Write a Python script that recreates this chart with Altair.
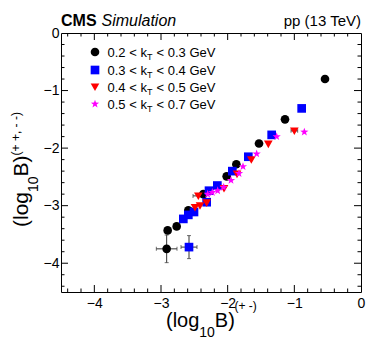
import altair as alt
import pandas as pd
import numpy as np

FONT = "Liberation Sans"

# ---------------- data ----------------
series_names = ["0.2-0.3", "0.3-0.4", "0.4-0.5", "0.5-0.7"]
series_colors = ["#000000", "#0000ff", "#ff0000", "#ff00ff"]

black_x = [-0.54, -1.14, -1.53, -1.87, -2.015, -2.365, -2.59, -2.765, -2.90, -2.915]
black_y = [-0.80, -1.50, -1.92, -2.28, -2.49, -2.80, -3.08, -3.36, -3.43, -3.75]

blue_x = [-0.89, -1.34, -1.69, -1.93, -2.155, -2.28, -2.315, -2.505, -2.59, -2.665, -2.58]
blue_y = [-1.31, -1.77, -2.15, -2.40, -2.65, -2.74, -2.94, -3.11, -3.16, -3.23, -3.72]

red_x = [-1.00, -1.39, -1.645, -1.86, -2.055, -2.315, -2.44, -2.415, -2.49]
red_y = [-1.70, -1.93, -2.20, -2.45, -2.70, -2.95, -2.83, -3.00, -3.03]

mag_x = [-0.85, -1.265, -1.565, -1.77, -1.83, -1.95, -2.06, -2.15, -2.23, -2.30]
mag_y = [-1.72, -1.80, -2.10, -2.32, -2.44, -2.56, -2.68, -2.74, -2.77, -2.80]

# error bars (series, x, y, xerr, yerr)
err_series = ["0.2-0.3", "0.3-0.4", "0.4-0.5", "0.4-0.5"]
err_x = [-2.915, -2.58, -1.00, -2.44]
err_y = [-3.75, -3.72, -1.70, -2.83]
err_xerr = [0.155, 0.12, 0.05, 0.08]
err_yerr = [0.24, 0.20, 0.0, 0.0]

legend_pre = ["0.2 < k", "0.3 < k", "0.4 < k", "0.5 < k"]
legend_sub = ["T", "T", "T", "T"]
legend_post = ["< 0.3 GeV", "< 0.4 GeV", "< 0.5 GeV", "< 0.7 GeV"]

x_labels = [-4, -3, -2, -1, 0]
y_labels = [-4, -3, -2, -1, 0]

# ---------------- frames ----------------
rows = []
for name, xs, ys in zip(series_names, [black_x, blue_x, red_x, mag_x], [black_y, blue_y, red_y, mag_y]):
    for a, b in zip(xs, ys):
        rows.append({"s": name, "x": a, "y": b})
df = pd.DataFrame(rows)

err = pd.DataFrame({"s": err_series, "x": err_x, "y": err_y, "xe": err_xerr, "ye": err_yerr})
err["x1"] = err["x"] - err["xe"]
err["x2"] = err["x"] + err["xe"]
err["y1"] = err["y"] - err["ye"]
err["y2"] = err["y"] + err["ye"]
errh = err[err["xe"] > 0]
errv = err[err["ye"] > 0]

# star path in [-1,1]
pts = []
for k in range(10):
    r = 1.0 if k % 2 == 0 else 0.4
    a = np.deg2rad(-90 + 36 * k)
    pts.append(f"{r*np.cos(a):.3f},{r*np.sin(a):.3f}")
star = "M" + "L".join(pts) + "Z"
tri_down = "M-1,-0.8L1,-0.8L0,0.95Z"
shapes = ["circle", "square", tri_down, star]

W, H = 300, 259
xscale = alt.Scale(domain=[-4.5, 0], nice=False, zero=False)
yscale = alt.Scale(domain=[-4.5, 0], nice=False, zero=False)
xaxis = alt.Axis(values=x_labels, ticks=False, domain=False, grid=False, labelFontSize=14,
                 labelFont=FONT, labelColor="black", labelPadding=4, labelFlush=False, title=None)
yaxis = alt.Axis(values=y_labels, ticks=False, domain=False, grid=False, labelFontSize=14,
                 labelFont=FONT, labelColor="black", labelPadding=2, labelFlush=False, title=None)


def X(f):
    return alt.X(f, type="quantitative", scale=xscale, axis=xaxis)


def Y(f):
    return alt.Y(f, type="quantitative", scale=yscale, axis=yaxis)


shape_enc = alt.Shape("s:N", scale=alt.Scale(domain=series_names, range=shapes), legend=None)
color_enc = alt.Color("s:N", scale=alt.Scale(domain=series_names, range=series_colors), legend=None)

layers = []

# ticks (inward, all four sides)
xt = np.round(np.arange(-4.4, 0.0, 0.2), 1)
yt = np.round(np.arange(-4.4, 0.0, 0.2), 1)
for vals, major in [([v for v in xt if abs(v - round(v)) > 1e-6], False), ([v for v in xt if abs(v - round(v)) < 1e-6], True)]:
    L = 7 if major else 3.5
    d = pd.DataFrame({"v": vals})
    layers.append(alt.Chart(d).mark_rule(color="black", strokeWidth=1).encode(x=X("v"), y=alt.value(H), y2=alt.value(H - L)))
    layers.append(alt.Chart(d).mark_rule(color="black", strokeWidth=1).encode(x=X("v"), y=alt.value(0), y2=alt.value(L)))
for vals, major in [([v for v in yt if abs(v - round(v)) > 1e-6], False), ([v for v in yt if abs(v - round(v)) < 1e-6], True)]:
    L = 7 if major else 3.5
    d = pd.DataFrame({"v": vals})
    layers.append(alt.Chart(d).mark_rule(color="black", strokeWidth=1).encode(y=Y("v"), x=alt.value(0), x2=alt.value(L)))
    layers.append(alt.Chart(d).mark_rule(color="black", strokeWidth=1).encode(y=Y("v"), x=alt.value(W), x2=alt.value(W - L)))

# error bars
ecol = "#333333"
layers.append(alt.Chart(errh).mark_rule(color=ecol, strokeWidth=1).encode(x=X("x1"), x2="x2", y=Y("y")))
layers.append(alt.Chart(errv).mark_rule(color=ecol, strokeWidth=1).encode(y=Y("y1"), y2="y2", x=X("x")))
layers.append(alt.Chart(errh).mark_tick(color=ecol, thickness=1, size=4, orient="vertical").encode(x=X("x1"), y=Y("y")))
layers.append(alt.Chart(errh).mark_tick(color=ecol, thickness=1, size=4, orient="vertical").encode(x=X("x2"), y=Y("y")))
layers.append(alt.Chart(errv).mark_tick(color=ecol, thickness=1, size=4, orient="horizontal").encode(y=Y("y1"), x=X("x")))
layers.append(alt.Chart(errv).mark_tick(color=ecol, thickness=1, size=4, orient="horizontal").encode(y=Y("y2"), x=X("x")))

# points
MS = 75
layers.append(alt.Chart(df).mark_point(filled=True, opacity=1, size=MS, strokeWidth=0).encode(
    x=X("x"), y=Y("y"), shape=shape_enc, color=color_enc))

# legend
row_y = [19, 37, 54, 71]
leg = pd.DataFrame({"s": series_names, "px": [34] * 4, "py": row_y,
                    "pre": legend_pre, "sub": legend_sub, "post": legend_post})
layers.append(alt.Chart(leg).mark_point(filled=True, opacity=1, size=MS, strokeWidth=0).encode(
    x=alt.X("px:Q", scale=None), y=alt.Y("py:Q", scale=None), shape=shape_enc, color=color_enc))
leg["ty"] = leg["py"] + 5
leg["sy"] = leg["py"] + 8
layers.append(alt.Chart(leg).mark_text(align="left", baseline="alphabetic", font=FONT, fontSize=13, color="black").encode(
    x=alt.value(46.5), y=alt.Y("ty:Q", scale=None), text="pre:N"))
layers.append(alt.Chart(leg).mark_text(align="left", baseline="alphabetic", font=FONT, fontSize=9, color="black").encode(
    x=alt.value(86), y=alt.Y("sy:Q", scale=None), text="sub:N"))
layers.append(alt.Chart(leg).mark_text(align="left", baseline="alphabetic", font=FONT, fontSize=13, color="black").encode(
    x=alt.value(95.5), y=alt.Y("ty:Q", scale=None), text="post:N"))


def txt(s, x, y, size, **kw):
    props = dict(align="left", baseline="alphabetic", font=FONT, fontSize=size, color="black")
    props.update(kw)
    return alt.Chart(pd.DataFrame({"t": [s]})).mark_text(**props).encode(
        x=alt.value(x), y=alt.value(y), text="t:N")


# header
layers.append(txt("CMS", 0, -7, 16, fontWeight="bold"))
layers.append(txt("Simulation", 40.5, -7, 16, fontStyle="italic"))
layers.append(txt("pp (13 TeV)", W, -7, 15, align="right"))

# x title
layers.append(txt("(log", 105, 294, 20))
layers.append(txt("10", 138.3, 304, 14))
layers.append(txt("B)", 153.8, 294, 20))
layers.append(txt("(+ -)", 173.5, 277, 12))

# y title (rotated)
layers.append(txt("(log", -33.5, 194, 21, angle=270))
layers.append(txt("10", -23.5, 159, 14, angle=270))
layers.append(txt("B)", -33.5, 143.4, 21, angle=270))
layers.append(txt("(+ +, - -)", -41.5, 122.4, 12, angle=270))

chart = alt.layer(*layers).properties(
    width=W, height=H,
    autosize=alt.AutoSizeParams(type="none"),
    padding={"left": 53, "top": 25, "right": 5, "bottom": 57},
).configure_view(stroke="black", strokeWidth=1)

chart.save("out.html", embed_options={"renderer": "svg", "actions": False})
